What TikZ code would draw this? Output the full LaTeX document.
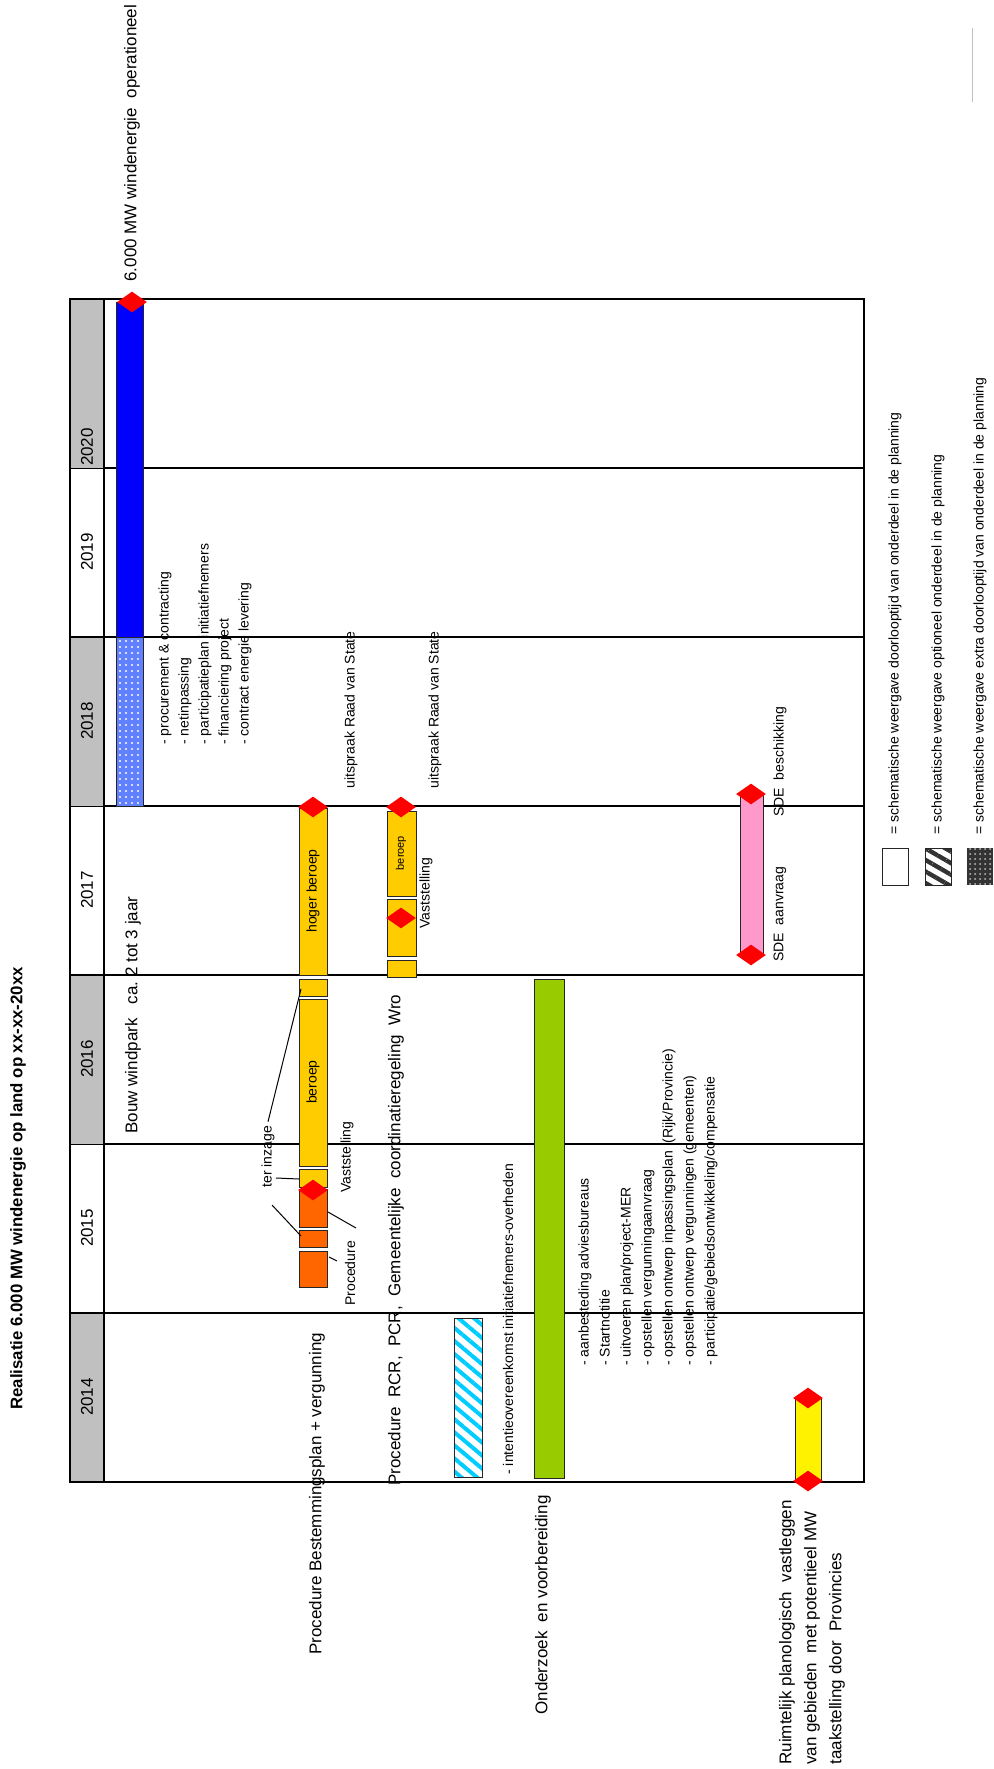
\documentclass[tikz,border=0pt]{standalone}
\usepackage{fontspec}
\setmainfont{Liberation Sans}
\usepackage{tikz}
\usetikzlibrary{
  calc,
  positioning,
  shapes.geometric,
  patterns.meta
}
\definecolor{hdrgray}{RGB}{192,192,192}
\definecolor{dotblue}{RGB}{96,128,255}
\definecolor{procorange}{RGB}{255,102,0}
\definecolor{procgold}{RGB}{255,204,0}
\definecolor{prepgreen}{RGB}{153,204,0}
\definecolor{sdepink}{RGB}{255,153,204}
\definecolor{hatchcyan}{RGB}{0,204,255}
\definecolor{legdark}{RGB}{51,51,51}

\tikzset{
  vlabel/.style={rotate=90, anchor=west, inner sep=0pt,
    font=\fontsize{8.5}{12.5}\selectfont, align=left},
  vsmall/.style={rotate=90, anchor=west, inner sep=0pt,
    font=\fontsize{7}{10}\selectfont, align=left},
  bar/.style={draw=black!85, line width=0.5pt},
  milestone/.style={diamond, fill=red, inner sep=0pt,
    minimum width=15pt, minimum height=10.5pt},
  leader/.style={draw=black, line width=0.5pt}
}

\begin{document}
\begin{tikzpicture}[x=0.5pt, y=-0.5pt,
  gridline/.style={draw=black, line width=0.8pt},
  yearcell/.style={rotate=90, inner sep=0pt, font=\fontsize{8.5}{10}\selectfont}
]
\useasboundingbox (0,0) rectangle (993,1769);

% title
\node[vlabel, font=\fontsize{8.4}{10}\selectfont\bfseries] (title) at (18,1410)
  {Realisatie 6.000 MW windenergie op land op xx-xx-20xx};

% year header and grid
\foreach \yr [count=\i from 0] in {2014,2015,2016,2017,2018,2019,2020} {
  \pgfmathsetmacro\ylo{1482-169*\i}
  \pgfmathsetmacro\yhi{1313-169*\i}
  \pgfmathtruncatemacro\odd{mod(\i,2)}
  \ifnum\odd=0 \fill[hdrgray] (70,\ylo) rectangle (104,\yhi); \fi
  \draw[gridline] (70,\yhi) -- (864,\yhi);
}
\foreach \yr/\ypos in {2014/1397,2015/1228,2016/1059,2017/890,2018/721,2019/552,2020/447}
  \node[yearcell] (y\yr) at (87,\ypos) {\yr};
\draw[gridline] (70,299) rectangle (864,1482);
\draw[gridline] (104,299) -- (104,1482);

% bouw windpark
\fill[blue] (116,302) rectangle (143,637);
\draw[bar] (116,302) rectangle (143,637);
\fill[dotblue] (116,637) rectangle (143,806);
\fill[pattern={Dots[distance=3pt,radius=0.6pt]}, pattern color=white] (116,637) rectangle (143,806);
\draw[bar] (116,637) rectangle (143,806);
\node[milestone] (opstart) at (132,302) {};
\node[vlabel] (operational) at (132,282) {6.000 MW windenergie\ \ operationeel};
\node[vlabel] (bouw) at (133,1134) {Bouw windpark\ \ \ ca.\ 2 tot\ 3 jaar};
\node[vsmall, anchor=west] (bouwlist) at (205,745)
  {- procurement \& contracting\\- netinpassing\\- participatieplan initiatiefnemers\\- financiering project\\- contract energie levering};

% procedure bestemmingsplan + vergunning
\draw[bar, fill=procorange] (299,1251) rectangle (327,1287);
\draw[bar, fill=procorange] (299,1230) rectangle (327,1247);
\draw[bar, fill=procorange] (299,1189) rectangle (327,1227);
\draw[bar, fill=procgold] (299,1169) rectangle (327,1187);
\draw[bar, fill=procgold] (299,999) rectangle (327,1166);
\draw[bar, fill=procgold] (299,979) rectangle (327,996);
\draw[bar, fill=procgold] (299,808) rectangle (327,975);
\node[milestone] (bpvast) at (313,1190) {};
\node[milestone] (bpraad) at (313,807) {};
\node[rotate=90, font=\fontsize{7}{8}\selectfont] (bpberoep) at (313,1082) {beroep};
\node[rotate=90, font=\fontsize{7}{8}\selectfont] (bphoger) at (313,891) {hoger beroep};
\node[vlabel] (bplabel) at (317,1655) {Procedure Bestemmingsplan + vergunning};
\node[vsmall] (bpproc) at (350,1306) {Procedure};
\node[vsmall] (bpvastlbl) at (347,1193) {Vaststelling};
\node[vsmall] (bpraadlbl) at (351,789) {uitspraak Raad van State};
\node[vsmall] (terinzage) at (268,1188) {ter inzage};
\coordinate (tiA) at (301,1236);
\coordinate (tiB) at (299,1179);
\coordinate (tiC) at (301,989);
\draw[leader] ($(terinzage.west)+(4,17)$) -- (tiA);
\draw[leader] ($(terinzage.south west)+(1,-10)$) -- (tiB);
\draw[leader] ($(terinzage.east)+(0,-4)$) -- (tiC);
\draw[leader] (329,1257) -- (337,1261);
\draw[leader] (328,1212) -- (356,1228);

% procedure RCR
\draw[bar, fill=procgold] (387,811) rectangle (416,896);
\draw[bar, fill=procgold] (387,899) rectangle (416,956);
\draw[bar, fill=procgold] (387,960) rectangle (416,977);
\node[milestone] (rcrvast) at (401,918) {};
\node[milestone] (rcrraad) at (401,807) {};
\node[rotate=90, font=\fontsize{5.5}{6}\selectfont] (rcrberoep) at (401,853) {beroep};
\node[vlabel] (rcrlabel) at (396,1486) {Procedure\ \ RCR,\ \ PCR,\ \ Gemeentelijke\ \ coordinatieregeling\ \ Wro};
\node[vsmall] (rcrvastlbl) at (426,929) {Vaststelling};
\node[vsmall] (rcrraadlbl) at (435,789) {uitspraak Raad van State};

% intentieovereenkomst
\fill[pattern={Lines[angle=-40,distance=5pt,line width=2pt]}, pattern color=hatchcyan] (454,1318) rectangle (482,1477);
\draw[bar] (454,1318) rectangle (482,1477);
\node[vsmall] (intentie) at (508,1475) {- intentieovereenkomst initiatiefnemers-overheden};

% onderzoek en voorbereiding
\draw[bar, fill=prepgreen] (534,979) rectangle (564,1478);
\node[vlabel] (onderzoek) at (543,1715) {Onderzoek\ \ en voorbereiding};
\node[vsmall, font=\fontsize{7}{10.5}\selectfont] (prepnotes) at (648,1366)
  {- aanbesteding adviesbureaus\\- Startnotitie\\- uitvoeren plan/project-MER\\- opstellen vergunningaanvraag\\- opstellen ontwerp inpassingsplan\ \ (Rijk/Provincie)\\- opstellen ontwerp vergunningen (gemeenten)\\- participatie/gebiedsontwikkeling/compensatie};

% SDE
\draw[bar, fill=sdepink] (740,794) rectangle (763,955);
\node[milestone] (sdeaan) at (751,955) {};
\node[milestone] (sdebes) at (751,794) {};
\node[vsmall] (sdeaanlbl) at (780,962) {SDE\ \ aanvraag};
\node[vsmall] (sdebeslbl) at (780,817) {SDE\ \ beschikking};

% ruimtelijk vastleggen
\draw[bar, fill=yellow] (795,1398) rectangle (821,1481);
\node[milestone] (rvstart) at (808,1481) {};
\node[milestone] (rvend) at (808,1398) {};
\node[vlabel] (ruimtelijk) at (812,1765)
  {Ruimtelijk planologisch\ \ vastleggen\\van gebieden\ \ met potentieel MW\\taakstelling door\ \ Provincies};

% legend
\draw[bar] (882,848) rectangle (908,885);
\fill[pattern={Lines[angle=-30,distance=5pt,line width=2.2pt]}, pattern color=legdark] (925,848) rectangle (951,885);
\draw[bar] (925,848) rectangle (951,885);
\fill[legdark] (967,848) rectangle (993,885);
\fill[pattern={Dots[distance=2.5pt,radius=0.5pt]}, pattern color=black!25] (967,848) rectangle (993,885);
\node[vsmall] (leg1) at (895,835) {= schematische weergave doorlooptijd van onderdeel in de planning};
\node[vsmall] (leg2) at (938,835) {= schematische weergave optioneel onderdeel in de planning};
\node[vsmall] (leg3) at (980,835) {= schematische weergave extra doorlooptijd van onderdeel in de planning};

\draw[black!25, line width=0.5pt] (972,28) -- (972,102);
\end{tikzpicture}
\end{document}
